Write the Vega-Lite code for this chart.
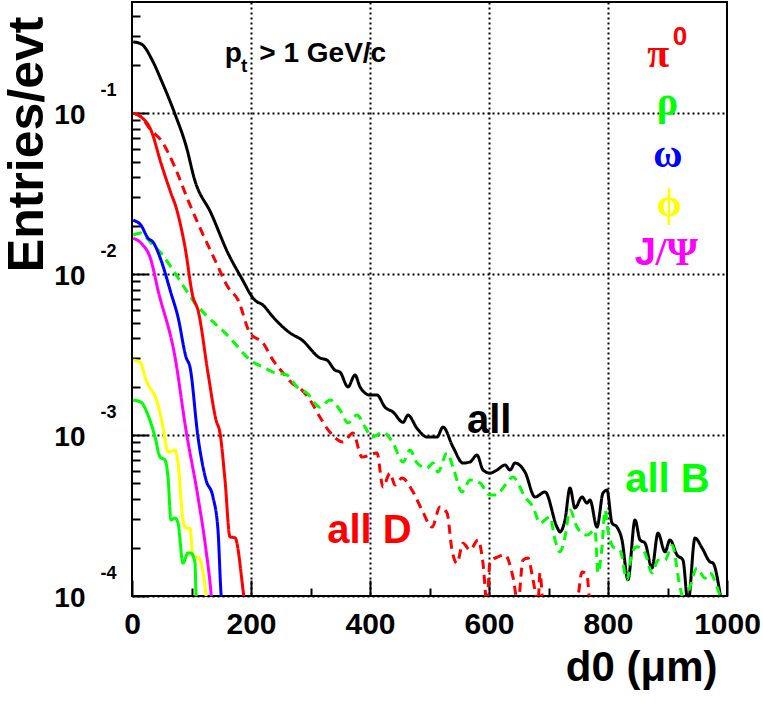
{
  "$schema": "https://vega.github.io/schema/vega-lite/v6.json",
  "width": 595,
  "height": 594,
  "autosize": {"type": "none"},
  "padding": {"left": 132, "top": 2, "right": 36, "bottom": 108},
  "background": "white",
  "config": {
    "font": "Liberation Sans",
    "view": {"stroke": "black", "strokeWidth": 2},
    "axis": {"domain": false, "labelFlush": false, "labelOverlap": false, "labelColor": "black", "titleColor": "black"}
  },
  "datasets": {
    "curves": [
      {"series":"all","d0":2,"val":0.277},{"series":"all","d0":16,"val":0.268},{"series":"all","d0":35.3,"val":0.2085},{"series":"all","d0":49.2,"val":0.16},{"series":"all","d0":71.8,"val":0.0996},{"series":"all","d0":91.3,"val":0.0618},{"series":"all","d0":105.4,"val":0.0384},{"series":"all","d0":132.8,"val":0.0239},{"series":"all","d0":161.3,"val":0.0135},{"series":"all","d0":183.2,"val":0.00957},{"series":"all","d0":206.2,"val":0.0069},{"series":"all","d0":220.2,"val":0.00641},{"series":"all","d0":237,"val":0.00541},{"series":"all","d0":265.5,"val":0.00431},{"series":"all","d0":285.7,"val":0.00389},{"series":"all","d0":316,"val":0.00301},{"series":"all","d0":327.7,"val":0.00292},{"series":"all","d0":341.2,"val":0.00253},{"series":"all","d0":349.6,"val":0.00246},{"series":"all","d0":363,"val":0.00199},{"series":"all","d0":374.8,"val":0.00236},{"series":"all","d0":383.2,"val":0.00199},{"series":"all","d0":400,"val":0.00177},{"series":"all","d0":411.8,"val":0.00177},{"series":"all","d0":425.2,"val":0.00149},{"series":"all","d0":438.7,"val":0.00139},{"series":"all","d0":455.5,"val":0.0012},{"series":"all","d0":463.9,"val":0.00133},{"series":"all","d0":479,"val":0.0011},{"series":"all","d0":495.8,"val":0.000972},{"series":"all","d0":512.6,"val":0.000972},{"series":"all","d0":522.7,"val":0.00112},{"series":"all","d0":539.5,"val":0.000842},{"series":"all","d0":556.3,"val":0.00067},{"series":"all","d0":568,"val":0.00068},{"series":"all","d0":579.8,"val":0.000751},{"series":"all","d0":590,"val":0.000606},{"series":"all","d0":601.7,"val":0.00058},{"series":"all","d0":613.4,"val":0.000606},{"series":"all","d0":626.9,"val":0.000651},{"series":"all","d0":635.3,"val":0.000606},{"series":"all","d0":643.7,"val":0.00067},{"series":"all","d0":660.5,"val":0.000589},{"series":"all","d0":677.3,"val":0.000412},{"series":"all","d0":694.1,"val":0.000443},{"series":"all","d0":714.3,"val":0.000268},{"series":"all","d0":719.3,"val":0.00025},{"series":"all","d0":727.7,"val":0.000297},{"series":"all","d0":736.1,"val":0.000469},{"series":"all","d0":744.5,"val":0.000352},{"series":"all","d0":756.3,"val":0.000412},{"series":"all","d0":764.7,"val":0.000378},{"series":"all","d0":769.7,"val":0.000395},{"series":"all","d0":781.5,"val":0.000268},{"series":"all","d0":791.6,"val":0.000436},{"series":"all","d0":798.3,"val":0.000455},{"series":"all","d0":806.7,"val":0.000284},{"series":"all","d0":815.1,"val":0.000268},{"series":"all","d0":823.5,"val":0.000223},{"series":"all","d0":833.6,"val":0.000126},{"series":"all","d0":845.4,"val":0.000297},{"series":"all","d0":853.8,"val":0.000223},{"series":"all","d0":862.2,"val":0.000213},{"series":"all","d0":873.9,"val":0.000149},{"series":"all","d0":884,"val":0.000246},{"series":"all","d0":895.8,"val":0.000188},{"series":"all","d0":904.2,"val":0.000223},{"series":"all","d0":916,"val":0.00018},{"series":"all","d0":926,"val":0.000167},{"series":"all","d0":934.5,"val":0.00009},{"series":"all","d0":946.2,"val":0.000229},{"series":"all","d0":958,"val":0.000199},{"series":"all","d0":971.4,"val":0.000163},{"series":"all","d0":976.5,"val":0.00016},{"series":"all","d0":988.2,"val":0.000104},{"series":"all","d0":995,"val":0.00007},
      {"series":"all D","d0":2,"val":0.1},{"series":"all D","d0":15.1,"val":0.0948},{"series":"all D","d0":31.9,"val":0.0783},{"series":"all D","d0":48.7,"val":0.0679},{"series":"all D","d0":71.8,"val":0.0464},{"series":"all D","d0":94.1,"val":0.0288},{"series":"all D","d0":116,"val":0.01875},{"series":"all D","d0":139.5,"val":0.01222},{"series":"all D","d0":161.3,"val":0.0083},{"series":"all D","d0":178.2,"val":0.0069},{"series":"all D","d0":198.3,"val":0.0043},{"series":"all D","d0":220.2,"val":0.00373},{"series":"all D","d0":237,"val":0.00292},{"series":"all D","d0":253.8,"val":0.00243},{"series":"all D","d0":268.9,"val":0.0021},{"series":"all D","d0":285.7,"val":0.0019},{"series":"all D","d0":299.2,"val":0.00165},{"series":"all D","d0":316,"val":0.00129},{"series":"all D","d0":332.8,"val":0.00104},{"series":"all D","d0":354.6,"val":0.000905},{"series":"all D","d0":371.4,"val":0.00103},{"series":"all D","d0":386.6,"val":0.00073},{"series":"all D","d0":411.8,"val":0.000773},{"series":"all D","d0":421.8,"val":0.000475},{"series":"all D","d0":433.6,"val":0.00058},{"series":"all D","d0":442,"val":0.000489},{"series":"all D","d0":453.8,"val":0.000541},{"series":"all D","d0":470.6,"val":0.000455},{"series":"all D","d0":487.4,"val":0.000342},{"series":"all D","d0":504.2,"val":0.000268},{"series":"all D","d0":517.6,"val":0.000357},{"series":"all D","d0":529.4,"val":0.000328},{"series":"all D","d0":537.8,"val":0.000193},{"series":"all D","d0":546.2,"val":0.00016},{"series":"all D","d0":556.3,"val":0.000213},{"series":"all D","d0":568.1,"val":0.000193},{"series":"all D","d0":581.5,"val":0.000223},{"series":"all D","d0":589.9,"val":0.00016},{"series":"all D","d0":596.6,"val":0.00009},{"series":"all D","d0":601.7,"val":0.000163},{"series":"all D","d0":615.1,"val":0.000175},{"series":"all D","d0":626.9,"val":0.00018},{"series":"all D","d0":640.3,"val":0.000131},{"series":"all D","d0":648.7,"val":0.00009},{"series":"all D","d0":657.1,"val":0.000167},{"series":"all D","d0":665.5,"val":0.000172},{"series":"all D","d0":674,"val":0.000126},{"series":"all D","d0":682.4,"val":0.00009},{"series":"all D","d0":685.7,"val":0.000139},{"series":"all D","d0":690.8,"val":0.00009},{"series":"all D","d0":719,"val":0.00006},{"series":"all D","d0":747.9,"val":0.00009},{"series":"all D","d0":756.3,"val":0.000141},{"series":"all D","d0":764.7,"val":0.000135},{"series":"all D","d0":769.7,"val":0.00009},{"series":"all D","d0":820,"val":0.00005},{"series":"all D","d0":1000,"val":0.00005},
      {"series":"all B","d0":2,"val":0.01746},{"series":"all B","d0":15.1,"val":0.01798},{"series":"all B","d0":31.9,"val":0.0156},{"series":"all B","d0":48.7,"val":0.0135},{"series":"all B","d0":72.3,"val":0.01014},{"series":"all B","d0":94.1,"val":0.00762},{"series":"all B","d0":105.9,"val":0.0066},{"series":"all B","d0":127.7,"val":0.00541},{"series":"all B","d0":156.3,"val":0.00431},{"series":"all B","d0":178.2,"val":0.00352},{"series":"all B","d0":186.6,"val":0.00323},{"series":"all B","d0":203.4,"val":0.00284},{"series":"all B","d0":220.2,"val":0.00264},{"series":"all B","d0":237,"val":0.00246},{"series":"all B","d0":260.5,"val":0.00236},{"series":"all B","d0":277.3,"val":0.00199},{"series":"all B","d0":294.1,"val":0.00182},{"series":"all B","d0":316,"val":0.00149},{"series":"all B","d0":332.8,"val":0.00165},{"series":"all B","d0":349.6,"val":0.00143},{"series":"all B","d0":363,"val":0.00119},{"series":"all B","d0":378.2,"val":0.00133},{"series":"all B","d0":391.6,"val":0.00112},{"series":"all B","d0":403.4,"val":0.000972},{"series":"all B","d0":421.8,"val":0.00104},{"series":"all B","d0":438.7,"val":0.000891},{"series":"all B","d0":455.5,"val":0.00068},{"series":"all B","d0":467.2,"val":0.000807},{"series":"all B","d0":479,"val":0.00067},{"series":"all B","d0":495.8,"val":0.000624},{"series":"all B","d0":505.9,"val":0.00067},{"series":"all B","d0":514.3,"val":0.000589},{"series":"all B","d0":529.4,"val":0.000773},{"series":"all B","d0":539.5,"val":0.000633},{"series":"all B","d0":554.6,"val":0.000443},{"series":"all B","d0":568.1,"val":0.000526},{"series":"all B","d0":584.9,"val":0.000503},{"series":"all B","d0":601.7,"val":0.000424},{"series":"all B","d0":613.4,"val":0.000424},{"series":"all B","d0":623.5,"val":0.000469},{"series":"all B","d0":640.3,"val":0.000548},{"series":"all B","d0":660.5,"val":0.000412},{"series":"all B","d0":674,"val":0.000357},{"series":"all B","d0":685.7,"val":0.000284},{"series":"all B","d0":702.5,"val":0.00031},{"series":"all B","d0":710.9,"val":0.000223},{"series":"all B","d0":719.3,"val":0.000188},{"series":"all B","d0":727.7,"val":0.000233},{"series":"all B","d0":736.1,"val":0.000342},{"series":"all B","d0":747.9,"val":0.000268},{"series":"all B","d0":764.7,"val":0.000239},{"series":"all B","d0":778.2,"val":0.000257},{"series":"all B","d0":783.2,"val":0.000139},{"series":"all B","d0":789.9,"val":0.000202},{"series":"all B","d0":795,"val":0.000342},{"series":"all B","d0":800,"val":0.000257},{"series":"all B","d0":808.4,"val":0.000202},{"series":"all B","d0":820.2,"val":0.000193},{"series":"all B","d0":831.9,"val":0.000126},{"series":"all B","d0":840.3,"val":0.000185},{"series":"all B","d0":848.7,"val":0.000202},{"series":"all B","d0":862.2,"val":0.000185},{"series":"all B","d0":873.9,"val":0.000139},{"series":"all B","d0":884,"val":0.000167},{"series":"all B","d0":895.8,"val":0.000167},{"series":"all B","d0":907.6,"val":0.000207},{"series":"all B","d0":921,"val":0.000114},{"series":"all B","d0":929.4,"val":0.00009},{"series":"all B","d0":937.8,"val":0.000114},{"series":"all B","d0":949.6,"val":0.000149},{"series":"all B","d0":963,"val":0.000129},{"series":"all B","d0":971.4,"val":0.000139},{"series":"all B","d0":983.2,"val":0.000114},{"series":"all B","d0":988.2,"val":0.000101},{"series":"all B","d0":1000,"val":0.00009},
      {"series":"π0","d0":2,"val":0.1},{"series":"π0","d0":15.1,"val":0.0948},{"series":"π0","d0":31.9,"val":0.0783},{"series":"π0","d0":48.7,"val":0.0489},{"series":"π0","d0":65.5,"val":0.0318},{"series":"π0","d0":73.9,"val":0.0261},{"series":"π0","d0":89.1,"val":0.0147},{"series":"π0","d0":102.5,"val":0.00719},{"series":"π0","d0":110.9,"val":0.00597},{"series":"π0","d0":127.7,"val":0.00243},{"series":"π0","d0":141.2,"val":0.00124},{"series":"π0","d0":147.9,"val":0.00103},{"series":"π0","d0":156.3,"val":0.000526},{"series":"π0","d0":164.7,"val":0.000233},{"series":"π0","d0":173.1,"val":0.00023},{"series":"π0","d0":186.6,"val":0.000109},{"series":"π0","d0":190,"val":0.000085},
      {"series":"ω","d0":2,"val":0.0216},{"series":"ω","d0":15.1,"val":0.0201},{"series":"ω","d0":26.9,"val":0.0167},{"series":"ω","d0":35.3,"val":0.0158},{"series":"ω","d0":48.7,"val":0.01222},{"series":"ω","d0":65.5,"val":0.00762},{"series":"ω","d0":77.3,"val":0.00541},{"series":"ω","d0":90.8,"val":0.00305},{"series":"ω","d0":97.5,"val":0.00264},{"series":"ω","d0":110.9,"val":0.000972},{"series":"ω","d0":124.4,"val":0.000526},{"series":"ω","d0":136.1,"val":0.000412},{"series":"ω","d0":144.5,"val":0.000257},{"series":"ω","d0":149.6,"val":0.000104},{"series":"ω","d0":151.3,"val":0.000087},
      {"series":"J/Ψ","d0":2,"val":0.0167},{"series":"J/Ψ","d0":15.1,"val":0.0156},{"series":"J/Ψ","d0":31.9,"val":0.01222},{"series":"J/Ψ","d0":43.7,"val":0.00795},{"series":"J/Ψ","d0":72.3,"val":0.00305},{"series":"J/Ψ","d0":90.8,"val":0.00107},{"series":"J/Ψ","d0":110.9,"val":0.000412},{"series":"J/Ψ","d0":124.4,"val":0.000193},{"series":"J/Ψ","d0":132.8,"val":0.000104},{"series":"J/Ψ","d0":134.5,"val":0.000087},
      {"series":"φ","d0":2,"val":0.00292},{"series":"φ","d0":13.4,"val":0.00284},{"series":"φ","d0":23.5,"val":0.0022},{"series":"φ","d0":43.7,"val":0.00154},{"series":"φ","d0":52.1,"val":0.00112},{"series":"φ","d0":60.5,"val":0.000784},{"series":"φ","d0":72.3,"val":0.000807},{"series":"φ","d0":77.3,"val":0.00067},{"series":"φ","d0":85.7,"val":0.000297},{"series":"φ","d0":90.8,"val":0.000264},{"series":"φ","d0":97.5,"val":0.000264},{"series":"φ","d0":102.5,"val":0.000175},{"series":"φ","d0":110.9,"val":0.000175},{"series":"φ","d0":116,"val":0.00016},{"series":"φ","d0":124.4,"val":0.000101},{"series":"φ","d0":126,"val":0.000087},
      {"series":"ρ","d0":2,"val":0.00165},{"series":"ρ","d0":15.1,"val":0.0016},{"series":"ρ","d0":26.9,"val":0.00133},{"series":"ρ","d0":38.7,"val":0.000972},{"series":"ρ","d0":47.1,"val":0.00073},{"series":"ρ","d0":55.5,"val":0.000699},{"series":"ρ","d0":60.5,"val":0.000548},{"series":"ρ","d0":65.5,"val":0.000297},{"series":"ρ","d0":72.3,"val":0.000305},{"series":"ρ","d0":77.3,"val":0.000284},{"series":"ρ","d0":85.7,"val":0.00016},{"series":"ρ","d0":94.1,"val":0.000185},{"series":"ρ","d0":99.2,"val":0.000185},{"series":"ρ","d0":105.9,"val":0.00016},{"series":"ρ","d0":107.6,"val":0.000101},{"series":"ρ","d0":109.2,"val":0.000087}
    ],
    "big": [
      {"series":"all","d0":563,"val":0.00103,"text":"all"},
      {"series":"all D","d0":328,"val":0.000213,"text":"all D"},
      {"series":"all B","d0":829,"val":0.000443,"text":"all B"}
    ],
    "pt": [
      {"series":"all","d0":156,"val":0.2075,"text":"p"},
      {"series":"all","d0":214,"val":0.2075,"text":"> 1 GeV/c"}
    ],
    "sub": [
      {"series":"all","d0":183,"val":0.181,"text":"t"}
    ],
    "greek": [
      {"series":"π0","d0":866,"val":0.193,"text":"π"},
      {"series":"ρ","d0":882,"val":0.0973,"text":"ρ"},
      {"series":"ω","d0":876,"val":0.0462,"text":"ω"},
      {"series":"φ","d0":882,"val":0.0229,"text":"ϕ"},
      {"series":"J/Ψ","d0":880,"val":0.01137,"text":"/Ψ"}
    ],
    "jlab": [
      {"series":"J/Ψ","d0":845,"val":0.01137,"text":"J"}
    ],
    "sup": [
      {"series":"π0","d0":909,"val":0.264,"text":"0"}
    ]
  },
  "layer": [
    {
      "data": {"name": "curves"},
      "mark": {"type": "line", "clip": true, "strokeWidth": 3, "interpolate": "monotone"},
      "encoding": {
        "x": {"field": "d0", "type": "quantitative", "scale": {"domain": [0, 1000], "nice": false, "zero": false},
          "axis": {"orient": "bottom", "values": [0, 200, 400, 600, 800, 1000], "format": "d", "ticks": false, "grid": false,
            "labelFontSize": 30, "labelFontWeight": "bold", "labelPadding": 13, "labelBaseline": "top",
            "title": "d0 (μm)", "titleFontSize": 42, "titleFontWeight": "bold", "titleAnchor": "end", "titleAlign": "right", "titleX": 585, "titlePadding": 8}},
        "y": {"field": "val", "type": "quantitative", "scale": {"type": "log", "domain": [0.0001, 0.49], "nice": false},
          "axis": {"orient": "left", "values": [0.0001, 0.001, 0.01, 0.1], "labelExpr": "'10'", "ticks": false, "grid": false,
            "labelFontSize": 28, "labelFontWeight": "bold", "labelPadding": 47, "labelOffset": 2, "labelBaseline": "middle",
            "title": "Entries/evt", "titleFontSize": 50, "titleFontWeight": "bold", "titleAnchor": "end", "titleAlign": "right", "titleY": 14, "titleX": -90, "titleBaseline": "alphabetic"}},
        "color": {"field": "series", "type": "nominal", "legend": null,
          "scale": {"domain": ["all", "all D", "all B", "π0", "ρ", "ω", "φ", "J/Ψ"],
            "range": ["#000000", "#ff0000", "#00ff00", "#ff0000", "#00ff00", "#0000ff", "#ffff00", "#ff00ff"]}},
        "strokeDash": {"field": "series", "type": "nominal", "legend": null,
          "scale": {"domain": ["all", "all D", "all B", "π0", "ρ", "ω", "φ", "J/Ψ"],
            "range": [[1, 0], [9, 6], [9, 6], [1, 0], [1, 0], [1, 0], [1, 0], [1, 0]]}}
      }
    },
    {
      "data": {"name": "big"},
      "mark": {"type": "text", "font": "Liberation Sans", "fontWeight": "bold", "fontSize": 40, "align": "left", "baseline": "alphabetic"},
      "encoding": {
        "x": {"field": "d0", "type": "quantitative",
          "axis": {"orient": "bottom", "values": [200, 400, 600, 800], "labels": false, "ticks": false,
            "grid": true, "gridColor": "black", "gridDash": [2, 3], "gridWidth": 2, "gridOpacity": 1, "title": null}},
        "y": {"field": "val", "type": "quantitative",
          "axis": {"orient": "left", "values": [0.0001, 0.001, 0.01, 0.1], "labelExpr": "'' + round(log(datum.value) / LN10)", "ticks": false,
            "grid": true, "gridColor": "black", "gridDash": [2, 3], "gridWidth": 2, "gridOpacity": 1,
            "labelFontSize": 18, "labelFontWeight": "bold", "labelPadding": 16, "labelOffset": -23, "labelBaseline": "middle", "title": null}},
        "text": {"field": "text"},
        "color": {"field": "series", "type": "nominal", "legend": null}
      }
    },
    {
      "data": {"name": "pt"},
      "mark": {"type": "text", "font": "Liberation Sans", "fontWeight": "bold", "fontSize": 28, "align": "left", "baseline": "alphabetic"},
      "encoding": {
        "x": {"field": "d0", "type": "quantitative",
          "axis": {"orient": "bottom", "offset": -16, "values": [0, 200, 400, 600, 800, 1000], "labels": false, "ticks": true, "tickSize": 16, "tickWidth": 2, "tickColor": "black", "grid": false, "title": null}},
        "y": {"field": "val", "type": "quantitative",
          "axis": {"orient": "left", "offset": -16, "values": [0.0001, 0.001, 0.01, 0.1], "labels": false, "ticks": true, "tickSize": 16, "tickWidth": 2, "tickColor": "black", "grid": false, "title": null}},
        "text": {"field": "text"},
        "color": {"field": "series", "type": "nominal", "legend": null}
      }
    },
    {
      "data": {"name": "sub"},
      "mark": {"type": "text", "font": "Liberation Sans", "fontWeight": "bold", "fontSize": 19, "align": "left", "baseline": "alphabetic"},
      "encoding": {
        "x": {"field": "d0", "type": "quantitative",
          "axis": {"orient": "bottom", "offset": -8, "values": [100, 300, 500, 700, 900], "labels": false, "ticks": true, "tickSize": 8, "tickWidth": 2, "tickColor": "black", "grid": false, "title": null}},
        "y": {"field": "val", "type": "quantitative",
          "axis": {"orient": "left", "offset": -8, "values": [0.0002, 0.0003, 0.0004, 0.0005, 0.0006, 0.0007, 0.0008, 0.0009, 0.002, 0.003, 0.004, 0.005, 0.006, 0.007, 0.008, 0.009, 0.02, 0.03, 0.04, 0.05, 0.06, 0.07, 0.08, 0.09, 0.2, 0.3, 0.4],
            "labels": false, "ticks": true, "tickSize": 8, "tickWidth": 2, "tickColor": "black", "grid": false, "title": null}},
        "text": {"field": "text"},
        "color": {"field": "series", "type": "nominal", "legend": null}
      }
    },
    {
      "data": {"name": "greek"},
      "mark": {"type": "text", "font": "Liberation Serif", "fontWeight": "bold", "fontSize": 40, "align": "left", "baseline": "alphabetic"},
      "encoding": {
        "x": {"field": "d0", "type": "quantitative", "axis": null},
        "y": {"field": "val", "type": "quantitative", "axis": null},
        "text": {"field": "text"},
        "color": {"field": "series", "type": "nominal", "legend": null}
      }
    },
    {
      "data": {"name": "jlab"},
      "mark": {"type": "text", "font": "Liberation Sans", "fontWeight": "bold", "fontSize": 38, "align": "left", "baseline": "alphabetic"},
      "encoding": {
        "x": {"field": "d0", "type": "quantitative", "axis": null},
        "y": {"field": "val", "type": "quantitative", "axis": null},
        "text": {"field": "text"},
        "color": {"field": "series", "type": "nominal", "legend": null}
      }
    },
    {
      "data": {"name": "sup"},
      "mark": {"type": "text", "font": "Liberation Sans", "fontWeight": "bold", "fontSize": 26, "align": "left", "baseline": "alphabetic"},
      "encoding": {
        "x": {"field": "d0", "type": "quantitative", "axis": null},
        "y": {"field": "val", "type": "quantitative", "axis": null},
        "text": {"field": "text"},
        "color": {"field": "series", "type": "nominal", "legend": null}
      }
    }
  ],
  "resolve": {"axis": {"x": "independent", "y": "independent"}}
}
